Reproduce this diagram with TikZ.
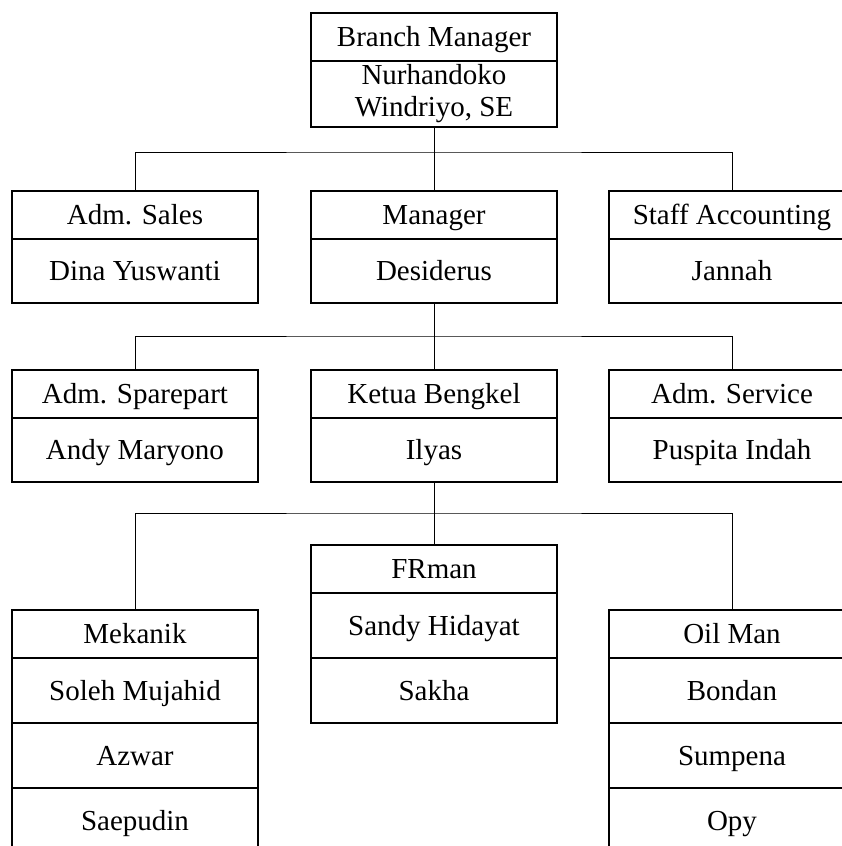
\documentclass[tikz,border=0pt]{standalone}
\usepackage{fontspec}
\setmainfont{Liberation Serif}
\usetikzlibrary{positioning}

\begin{document}
\begin{tikzpicture}[
  x=1pt, y=-1pt,
  post/.style={rectangle, draw=black, line width=1.2pt, outer sep=0pt, inner sep=0pt, minimum width=246pt, minimum height=48pt, text height=19pt, text depth=0pt, align=center, font=\fontsize{29}{32}\selectfont},
  person/.style={post, minimum height=65pt},
  link/.style={draw=black, line width=0.8pt},
]
  \useasboundingbox (0,0) rectangle (842,846);
  \clip (0,0) rectangle (842,846);

  % level 1
  \node[post, anchor=north] (bm) at (434,13) {Branch Manager};
  \node[person, minimum height=66pt, text height={}, text depth={}, below=0pt of bm] (bmname) {Nurhandoko\\Windriyo, SE};

  % level 2
  \node[post, anchor=north] (sales) at (135,191) {Adm. Sales};
  \node[person, minimum height=64pt, below=0pt of sales] (salesname) {Dina Yuswanti};
  \node[post, anchor=north] (mgr) at (434,191) {Manager};
  \node[person, minimum height=64pt, below=0pt of mgr] (mgrname) {Desiderus};
  \node[post, anchor=north] (acc) at (732,191) {Staff Accounting};
  \node[person, minimum height=64pt, below=0pt of acc] (accname) {Jannah};

  % level 3
  \node[post, anchor=north] (part) at (135,370) {Adm. Sparepart};
  \node[person, minimum height=64pt, below=0pt of part] (partname) {Andy Maryono};
  \node[post, anchor=north] (ketua) at (434,370) {Ketua Bengkel};
  \node[person, minimum height=64pt, below=0pt of ketua] (ketuaname) {Ilyas};
  \node[post, anchor=north] (serv) at (732,370) {Adm. Service};
  \node[person, minimum height=64pt, below=0pt of serv] (servname) {Puspita Indah};

  % level 4
  \node[post, anchor=north] (fr) at (434,545) {FRman};
  \node[person, below=0pt of fr] (fra) {Sandy Hidayat};
  \node[person, below=0pt of fra] (frb) {Sakha};

  \node[post, anchor=north] (mek) at (135,610) {Mekanik};
  \node[person, below=0pt of mek] (meka) {Soleh Mujahid};
  \node[person, below=0pt of meka] (mekb) {Azwar};
  \node[person, below=0pt of mekb] (mekc) {Saepudin};

  \node[post, anchor=north] (oil) at (732,610) {Oil Man};
  \node[person, below=0pt of oil] (oila) {Bondan};
  \node[person, below=0pt of oila] (oilb) {Sumpena};
  \node[person, below=0pt of oilb] (oilc) {Opy};

  % connectors
  \coordinate (j1) at (434,152);
  \coordinate (j2) at (434,336);
  \coordinate (j3) at (434,513);

  \draw[link] (bmname.south) -- (j1);
  \draw[link] (sales.north) |- (j1) -| (acc.north);
  \draw[link] (j1) -- (mgr.north);

  \draw[link] (mgrname.south) -- (j2);
  \draw[link] (part.north) |- (j2) -| (serv.north);
  \draw[link] (j2) -- (ketua.north);

  \draw[link] (ketuaname.south) -- (j3);
  \draw[link] (mek.north) |- (j3) -| (oil.north);
  \draw[link] (j3) -- (fr.north);

\end{tikzpicture}
\end{document}
